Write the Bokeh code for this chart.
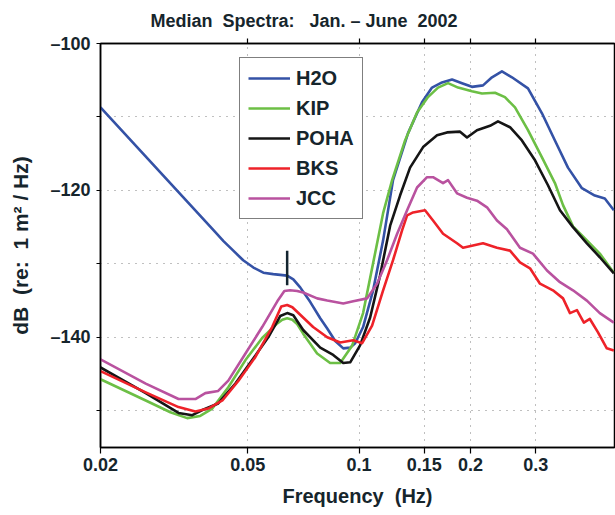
from bokeh.plotting import figure
from bokeh.models import (LogAxis, FixedTicker, Legend, LegendItem, Range1d)
from bokeh.embed import file_html
from bokeh.resources import INLINE

# Median spectra, Jan.-June 2002 (frequency in Hz, level in dB re 1 m^2/Hz)
h2o_freq = [0.0200, 0.0404, 0.0430, 0.0457, 0.0486, 0.0518, 0.0551, 0.0586, 0.0639,
            0.0664, 0.0693, 0.0738, 0.0785, 0.0820, 0.0862, 0.0906, 0.0946, 0.0976,
            0.1025, 0.1091, 0.1161, 0.1235, 0.1356, 0.1479,
            0.1574, 0.1675, 0.1783, 0.1897, 0.2018, 0.2162, 0.2286, 0.2432, 0.2588,
            0.2860, 0.3120, 0.3382, 0.3668, 0.4001, 0.4335, 0.4613, 0.4880]
h2o_db = [-108.7, -125.4, -126.9, -128.2, -129.5, -130.5, -131.2, -131.4, -131.6,
          -132.1, -133.2, -135.2, -137.4, -138.8, -140.5, -141.5, -141.4, -140.8,
          -138.6, -133.6, -126.8, -118.6, -112.2, -108.0,
          -106.0, -105.3, -104.9, -105.4, -105.9, -105.7, -104.6, -103.8, -104.6,
          -106.1, -109.5, -113.2, -116.9, -119.7, -120.7, -121.1, -122.7]

kip_freq = [0.0200, 0.0265, 0.0309, 0.0343, 0.0372, 0.0401, 0.0443, 0.0493, 0.0547,
            0.0601, 0.0620, 0.0639, 0.0660, 0.0680, 0.0706, 0.0770, 0.0835, 0.0889,
            0.0958, 0.1025, 0.1091, 0.1161, 0.1228, 0.1331, 0.1434, 0.1535, 0.1634,
            0.1739, 0.1851, 0.2018, 0.2148, 0.2329, 0.2478, 0.2638, 0.2860, 0.3120,
            0.3382, 0.3557, 0.3784, 0.4126, 0.4472, 0.4880]
kip_db = [-145.7, -148.6, -150.2, -151.0, -150.7, -149.7, -146.8, -143.1, -140.1,
          -138.1, -137.6, -137.4, -137.6, -138.2, -139.5, -142.2, -143.5, -143.5,
          -141.1, -136.7, -129.9, -123.1, -118.6, -113.2, -109.4, -107.3, -106.0,
          -105.4, -106.0, -106.5, -106.8, -106.7, -107.3, -108.7, -111.8, -115.5,
          -119.0, -122.0, -124.9, -126.8, -128.6, -131.2]

poha_freq = [0.0200, 0.0265, 0.0325, 0.0354, 0.0377, 0.0416, 0.0463, 0.0514, 0.0568,
             0.0612, 0.0639, 0.0664, 0.0706, 0.0785, 0.0851, 0.0906, 0.0946, 0.1006,
             0.1071, 0.1139, 0.1213, 0.1290, 0.1373, 0.1489, 0.1624, 0.1728, 0.1874,
             0.1957, 0.2082, 0.2258, 0.2373, 0.2557, 0.2754, 0.2988, 0.3239, 0.3490,
             0.3784, 0.4126, 0.4472, 0.4880]
poha_db = [-144.1, -147.6, -150.3, -150.6, -149.9, -149.0, -146.3, -143.1, -140.0,
           -137.1, -136.7, -137.0, -139.0, -141.4, -142.4, -143.5, -143.4, -141.1,
           -137.3, -131.6, -124.8, -120.7, -116.9, -114.1, -112.5, -112.1, -112.0,
           -112.8, -111.8, -111.2, -110.6, -111.4, -113.2, -115.9, -119.3, -122.7,
           -125.0, -127.2, -129.1, -131.3]

bks_freq = [0.0200, 0.0265, 0.0325, 0.0361, 0.0391, 0.0427, 0.0472, 0.0524, 0.0582,
            0.0616, 0.0639, 0.0660, 0.0751, 0.0820, 0.0889, 0.0964, 0.1019, 0.1084,
            0.1161, 0.1235, 0.1307, 0.1348, 0.1399, 0.1507, 0.1584, 0.1686, 0.1839,
            0.1909, 0.2031, 0.2162, 0.2358, 0.2557, 0.2721, 0.2896, 0.3082, 0.3340,
            0.3557, 0.3714, 0.3879, 0.4050, 0.4203, 0.4418, 0.4671, 0.4880]
bks_db = [-144.6, -147.5, -149.5, -150.1, -149.7, -148.6, -145.9, -142.7, -138.6,
          -135.8, -135.6, -135.9, -138.6, -140.0, -140.7, -140.4, -140.8, -138.4,
          -133.6, -129.5, -125.4, -123.4, -123.0, -122.7, -124.1, -125.9, -127.2,
          -127.8, -127.5, -127.2, -127.8, -128.2, -129.8, -130.6, -132.7, -133.6,
          -134.7, -136.7, -136.3, -138.0, -137.5, -139.3, -141.5, -141.8]

jcc_freq = [0.0200, 0.0265, 0.0325, 0.0361, 0.0384, 0.0416, 0.0443, 0.0493, 0.0547,
            0.0601, 0.0628, 0.0651, 0.0680, 0.0706, 0.0770, 0.0820, 0.0906, 0.0964,
            0.1051, 0.1118, 0.1190, 0.1267, 0.1348, 0.1434, 0.1526, 0.1584, 0.1686,
            0.1739, 0.1839, 0.1957, 0.2082, 0.2216, 0.2358, 0.2509, 0.2721, 0.2950,
            0.3219, 0.3490, 0.3784, 0.4126, 0.4472, 0.4880]
jcc_db = [-143.0, -146.3, -148.4, -148.4, -147.6, -147.3, -145.9, -142.2, -138.6,
          -135.1, -133.7, -133.6, -133.7, -133.9, -134.7, -135.0, -135.4, -135.1,
          -134.7, -132.7, -129.5, -125.9, -122.7, -119.6, -118.2, -118.2, -119.0,
          -118.6, -120.4, -121.0, -121.4, -122.3, -124.1, -125.3, -127.8, -128.6,
          -130.9, -132.5, -133.6, -135.0, -136.7, -138.0]

station_names = ["H2O", "KIP", "POHA", "BKS", "JCC"]
station_colors = ["#3452a6", "#6cbf45", "#151515", "#ee2229", "#b9529f"]

# short vertical marker on the H2O curve
marker_freq = 0.0639
marker_db = [-128.2, -132.9]

x_ticks = [0.02, 0.05, 0.1, 0.15, 0.2, 0.3]
x_tick_labels = ["0.02", "0.05", "0.1", "0.15", "0.2", "0.3"]
y_ticks = [-150, -140, -130, -120, -110, -100]
y_tick_labels = ["", "\u2013140", "", "\u2013120", "", "\u2013100"]

FONT = "Liberation Sans"
INK = "#16252c"

p = figure(width=615, height=515, x_axis_type="log",
           x_range=Range1d(0.02, 0.49), y_range=Range1d(-155, -100),
           output_backend="svg", toolbar_location=None,
           min_border_left=100, min_border_right=1,
           min_border_top=43, min_border_bottom=68)
p.background_fill_color = "white"
p.border_fill_color = "white"
p.outline_line_color = "black"
p.outline_line_width = 1.5

p.title.text = "Median\u00a0\u00a0Spectra:\u00a0\u00a0\u00a0Jan.\u00a0\u2013\u00a0June\u00a0\u00a02002"
p.title.align = "left"
p.title.offset = 50
p.title.text_font = FONT
p.title.text_font_size = "18px"
p.title.text_font_style = "bold"
p.title.text_color = INK
p.title.standoff = 16

series = [(h2o_freq, h2o_db), (kip_freq, kip_db), (poha_freq, poha_db),
          (bks_freq, bks_db), (jcc_freq, jcc_db)]
renderers = []
for (fx, dy), color in zip(series, station_colors):
    r = p.line(fx, dy, line_color=color, line_width=2.6, line_join="round")
    renderers.append(r)

p.segment(x0=[marker_freq], y0=[marker_db[0]], x1=[marker_freq], y1=[marker_db[1]],
          line_color="#142530", line_width=2.5)

# axes
xaxis = p.xaxis[0]
xaxis.ticker = FixedTicker(ticks=x_ticks)
xaxis.major_label_overrides = dict(zip(x_ticks, x_tick_labels))
yaxis = p.yaxis[0]
yaxis.ticker = FixedTicker(ticks=y_ticks)
yaxis.major_label_overrides = dict(zip(y_ticks, y_tick_labels))

for ax in (xaxis, yaxis):
    ax.axis_line_width = 1.5
    ax.axis_line_color = "black"
    ax.major_tick_line_color = "black"
    ax.major_tick_line_width = 1.2
    ax.major_tick_in = 0
    ax.minor_tick_line_color = None
    ax.major_label_text_font = FONT
    ax.major_label_text_font_size = "18px"
    ax.major_label_text_font_style = "bold"
    ax.major_label_text_color = INK
    ax.axis_label_text_font = FONT
    ax.axis_label_text_font_size = "20px"
    ax.axis_label_text_font_style = "bold"
    ax.axis_label_text_color = INK

xaxis.major_tick_out = 6
xaxis.major_label_standoff = 4
xaxis.axis_label = "Frequency\u00a0\u00a0(Hz)"
xaxis.axis_label_standoff = 11
yaxis.major_tick_out = 4
yaxis.major_label_standoff = 6
yaxis.axis_label = "dB\u00a0\u00a0(re:\u00a0\u00a01\u00a0m\u00b2\u00a0/\u00a0Hz)"
yaxis.axis_label_text_font_size = "21px"
yaxis.axis_label_standoff = 15

top_axis = LogAxis(ticker=FixedTicker(ticks=x_ticks[1:]),
                   major_label_overrides={t: "" for t in x_ticks[1:]},
                   major_tick_out=5, major_tick_in=0,
                   major_tick_line_color="black", major_tick_line_width=1.2,
                   minor_tick_line_color=None, axis_line_color="black",
                   axis_line_width=1.5, major_label_text_font_size="1px",
                   major_label_standoff=0)
p.add_layout(top_axis, "above")

# dotted grid
p.xgrid.ticker = FixedTicker(ticks=x_ticks[1:])
p.ygrid.ticker = FixedTicker(ticks=y_ticks[:-1])
for g in (p.xgrid, p.ygrid):
    g.grid_line_color = "#808080"
    g.grid_line_dash = "1 6"
    g.grid_line_width = 1.1

legend = Legend(items=[LegendItem(label=n, renderers=[r])
                       for n, r in zip(station_names, renderers)],
                location=(139, 228))
legend.label_text_font = FONT
legend.label_text_font_size = "20px"
legend.label_text_font_style = "bold"
legend.label_text_color = INK
legend.glyph_width = 42
legend.glyph_height = 24
legend.label_height = 24
legend.label_standoff = 6
legend.spacing = 6
legend.padding = 8
legend.margin = 0
legend.border_line_color = "black"
legend.border_line_width = 1.5
legend.background_fill_color = "white"
legend.background_fill_alpha = 1.0
p.add_layout(legend)

open("out.html", "w").write(file_html(p, INLINE))
